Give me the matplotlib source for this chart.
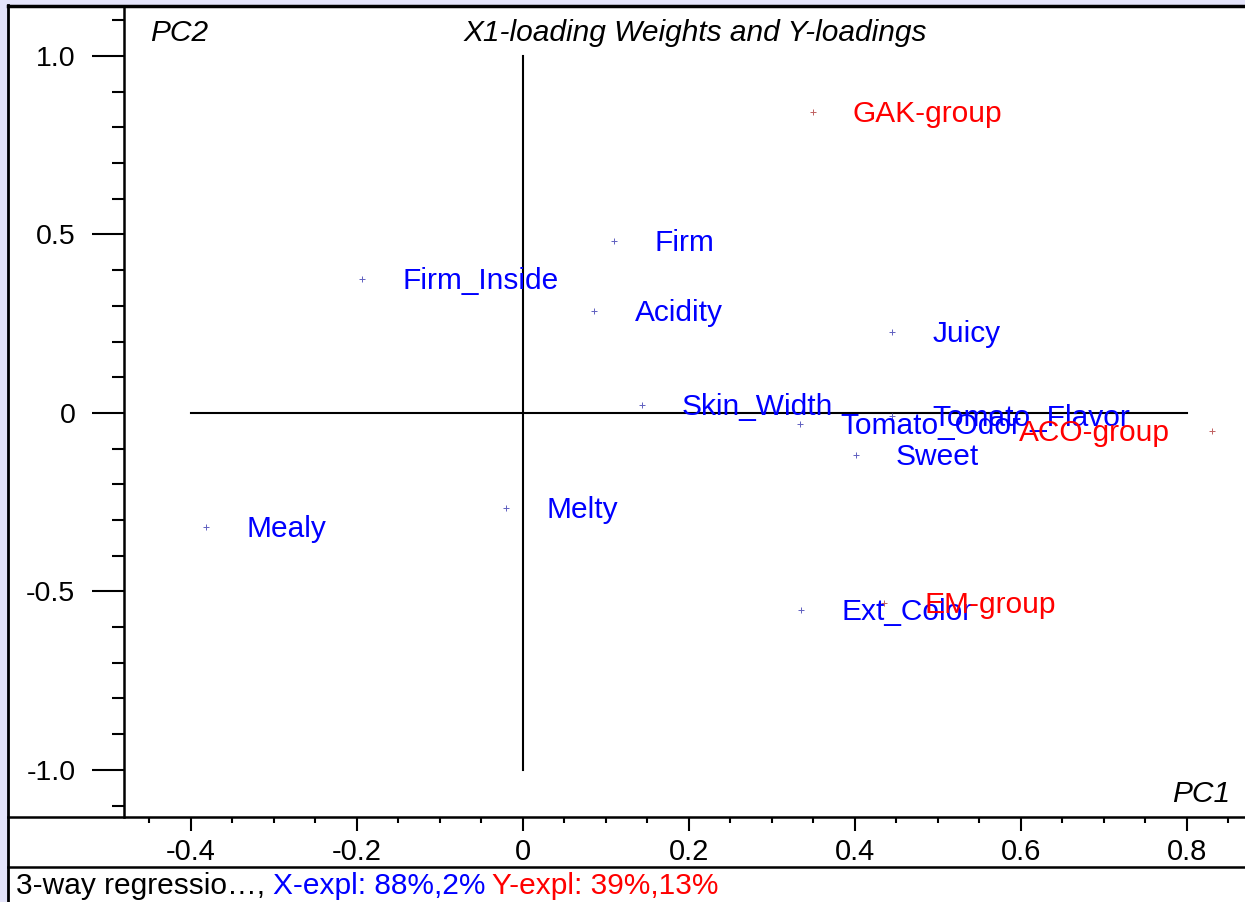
import matplotlib
matplotlib.use("Agg")
import matplotlib.pyplot as plt
from matplotlib.lines import Line2D
from matplotlib.patches import Rectangle
from matplotlib.ticker import FixedLocator, FixedFormatter, MultipleLocator

plt.rcParams['font.family'] = ['Liberation Sans', 'DejaVu Sans']
plt.rcParams['axes.unicode_minus'] = False

# X-loading weights (blue)
x_names = ["Firm", "Firm_Inside", "Acidity", "Juicy", "Skin_Width", "Tomato_Odor",
           "Tomato_Flavor", "Sweet", "Melty", "Mealy", "Ext_Color"]
x_pc1 = [0.110, -0.194, 0.086, 0.445, 0.143, 0.334, 0.445, 0.401, -0.020, -0.382, 0.335]
x_pc2 = [0.482, 0.375, 0.286, 0.227, 0.022, -0.031, -0.008, -0.118, -0.266, -0.319, -0.552]

# Y-loadings (red)
y_names = ["GAK-group", "ACO-group", "EM-group"]
y_pc1 = [0.349, 0.830, 0.435]
y_pc2 = [0.843, -0.050, -0.532]

xtick_vals = [-0.4, -0.2, 0, 0.2, 0.4, 0.6, 0.8]
xtick_labels = ["-0.4", "-0.2", "0", "0.2", "0.4", "0.6", "0.8"]
ytick_vals = [1.0, 0.5, 0, -0.5, -1.0]
ytick_labels = ["1.0", "0.5", "0", "-0.5", "-1.0"]

FS = 21.5
W, H = 1245, 902
fig = plt.figure(figsize=(W / 100, H / 100), dpi=100)
fig.patch.set_facecolor("white")

# lavender frame strips
fig.add_artist(Rectangle((0, 0), 8 / W, 1, transform=fig.transFigure, color="#e4e4fa", zorder=0))
fig.add_artist(Rectangle((0, 1 - 5 / H), 1, 5 / H, transform=fig.transFigure, color="#e4e4fa", zorder=0))

def fy(py):
    return 1 - py / H

# frame lines
fig.add_artist(Line2D([8 / W, 8 / W], [0, fy(5)], transform=fig.transFigure, color="black", lw=2))
fig.add_artist(Line2D([8 / W, 1], [fy(6), fy(6)], transform=fig.transFigure, color="black", lw=2.5))
fig.add_artist(Line2D([8 / W, 1], [fy(817), fy(817)], transform=fig.transFigure, color="black", lw=1.8))
fig.add_artist(Line2D([8 / W, 1], [fy(867), fy(867)], transform=fig.transFigure, color="black", lw=1.8))

ax = fig.add_axes([124 / W, fy(817), 1 - 124 / W, (817 - 6) / H])
ax.set_xlim(-0.4807, 0.870)
ax.set_ylim(-1.132, 1.140)
for s in ["top", "right", "bottom"]:
    ax.spines[s].set_visible(False)
ax.spines["left"].set_linewidth(1.8)

ax.xaxis.set_major_locator(FixedLocator(xtick_vals))
ax.xaxis.set_major_formatter(FixedFormatter(xtick_labels))
ax.xaxis.set_minor_locator(MultipleLocator(0.05))
ax.yaxis.set_major_locator(FixedLocator(ytick_vals))
ax.yaxis.set_major_formatter(FixedFormatter(ytick_labels))
ax.yaxis.set_minor_locator(MultipleLocator(0.1))
ax.tick_params(axis="x", which="major", length=10, width=1.5, labelsize=21, pad=5)
ax.tick_params(axis="x", which="minor", length=4.5, width=1.5)
ax.tick_params(axis="y", which="major", length=23, width=1.5, labelsize=20.5, pad=12)
ax.tick_params(axis="y", which="minor", length=8.5, width=1.5)

# cross lines
ax.plot([0, 0], [-1.0, 1.0], color="black", lw=1.5)
ax.plot([-0.4, 0.8], [0, 0], color="black", lw=1.5)

ax.scatter(x_pc1, x_pc2, marker="+", s=16, color="#6060c0", linewidths=0.7, zorder=3)
ax.scatter(y_pc1, y_pc2, marker="+", s=16, color="#c06060", linewidths=0.7, zorder=3)

for n, a, b in zip(x_names, x_pc1, x_pc2):
    ax.annotate(n, (a, b), xytext=(29, -1.5), textcoords="offset points",
                color="blue", fontsize=FS, va="center", ha="left")
for n, a, b in zip(y_names, y_pc1, y_pc2):
    # labels that would run off the right edge go to the left of the point
    if a > 0.7:
        ax.annotate(n, (a, b), xytext=(-30, -1.5), textcoords="offset points",
                    color="red", fontsize=FS, va="center", ha="right")
    else:
        ax.annotate(n, (a, b), xytext=(29, -1.5), textcoords="offset points",
                    color="red", fontsize=FS, va="center", ha="left")

fig.text(150 / W, fy(33), "PC2", fontsize=FS, style="italic", va="center", ha="left")
fig.text(695 / W, fy(33), "X1-loading Weights and Y-loadings", fontsize=FS,
         style="italic", va="center", ha="center")
fig.text(1230 / W, fy(794), "PC1", fontsize=FS, style="italic", va="center", ha="right")

fig.text(16 / W, fy(886), "3-way regressio\u2026,", fontsize=FS, va="center", ha="left", color="black")
fig.text(273 / W, fy(886), "X-expl: 88%,2%", fontsize=FS, va="center", ha="left", color="blue")
fig.text(492 / W, fy(886), "Y-expl: 39%,13%", fontsize=FS, va="center", ha="left", color="red")

fig.savefig("out.png", dpi=100)
